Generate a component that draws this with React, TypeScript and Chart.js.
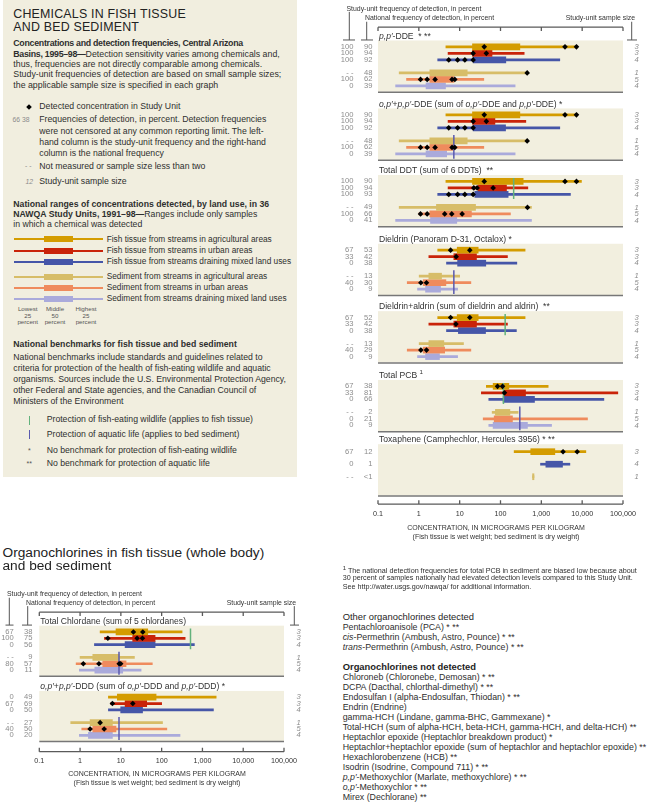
import React, { useEffect, useRef } from 'react';
import { Chart, registerables } from 'chart.js';
Chart.register(...registerables);

const FONT = '"Liberation Sans", Arial, Helvetica, sans-serif';

// ---------------- data ----------------
const TICK_VALUES = [0.1, 1, 10, 100, 1000, 10000, 100000];
const TICK_LABELS = ['0.1', '1', '10', '100', '1,000', '10,000', '100,000'];

const LAND_USES = [
  'Fish tissue from streams in agricultural areas',
  'Fish tissue from streams in urban areas',
  'Fish tissue from streams draining mixed land uses',
  'Sediment from streams in agricultural areas',
  'Sediment from streams in urban areas',
  'Sediment from streams draining mixed land uses',
];

// rows: [lowest, 25th percentile, 75th percentile, highest]  (micrograms per kilogram)
const ppDDE_ranges = [[4.6, 20.6, 298, 7600], [5.2, 20.6, 62, 380], [2.9, 21.4, 135, 2830], [0.33, 1.86, 15.3, 458], [0.5, 1.86, 7.2, 39], [0.27, 1.5, 4.5, 228]];
const ppDDE_detected = [[40, 3800, 7250], [21.4, 45], [5.4, 8.9, 13.4, 21.4], [450], [1.1, 1.6, 2.5, 6.5, 7.6], []];
const ppDDE_freq = [['100', '90', '3'], ['100', '94', '3'], ['100', '92', '4'], ['- -', '48', '1'], ['100', '62', '5'], ['0', '39', '4']];

const sumDDE_ranges = [[4.6, 20.6, 298, 7600], [5.2, 20.6, 73, 417], [2.9, 21.4, 133, 2830], [0.33, 1.86, 15.3, 458], [0.5, 1.86, 7.2, 39], [0.27, 1.5, 4.8, 228]];
const sumDDE_detected = [[40, 3800, 7250], [21.4, 45], [5.4, 8.9, 13.4, 21.4], [450], [1.1, 1.6, 2.5, 6.5, 7.6], []];
const sumDDE_freq = [['100', '90', '3'], ['100', '94', '3'], ['100', '92', '4'], ['- -', '48', '1'], ['100', '62', '5'], ['0', '39', '4']];
const sumDDE_sedBenchmark = 7.2;

const totalDDT_ranges = [[4.6, 20.6, 359, 9600], [5.2, 28.4, 140, 467], [2.9, 23.5, 154, 5160], [0.33, 2.7, 24.5, 574], [1.0, 1.86, 19.4, 175], [0.27, 1.93, 8.5, 574]];
const totalDDT_detected = [[40, 3800, 7250], [22.2, 26.8, 66], [5.4, 8.9, 13.4, 21.4], [458], [1.1, 1.6, 4.3, 6.4, 11.5], []];
const totalDDT_freq = [['100', '90', '3'], ['100', '94', '3'], ['100', '93', '4'], ['- -', '49', '1'], ['100', '66', '5'], ['0', '41', '4']];
const totalDDT_fishBenchmark = 210;

const dieldrin_ranges = [[2.9, 8.7, 28.4, 400], [1.76, 7.2, 25.8, 148], [4.76, 8.9, 43.6, 251], [1.02, 1.76, 3.6, 10], [0.52, 1.28, 4.6, 18.8], [0.93, 1.46, 3.4, 8.9]];
const dieldrin_detected = [[6.0, 17.7], [8.2], [], [], [1.12, 1.54], []];
const dieldrin_freq = [['67', '53', '3'], ['33', '42', '3'], ['0', '38', '4'], ['- -', '13', '1'], ['40', '30', '5'], ['0', '9', '4']];
const dieldrin_sedBenchmark = 7.2;

const dieldrinAldrin_ranges = [[2.9, 8.7, 28.4, 400], [1.76, 7.2, 25.8, 148], [4.76, 9.3, 43, 245], [1.02, 1.76, 4.1, 12.4], [0.52, 1.28, 4.3, 18.8], [0.93, 1.46, 3.2, 8.9]];
const dieldrinAldrin_detected = [[6.0, 17.7], [8.1], [], [], [1.12, 1.54], []];
const dieldrinAldrin_freq = [['67', '52', '3'], ['33', '42', '3'], ['0', '38', '4'], ['- -', '13', '1'], ['40', '29', '5'], ['0', '9', '4']];
const dieldrinAldrin_fishBenchmark = 130;

const totalPCB_ranges = [[45, 66, 160, 1470], [34, 127, 410, 74600], [51.7, 116, 680, 34000], [62.5, 75, 170, 270], [37.7, 70, 196, 13500], [51.7, 66, 457, 1780]];
const totalPCB_detected = [[84.6, 112], [125], [], [], [], []];
const totalPCB_freq = [['67', '38', '3'], ['33', '81', '3'], ['0', '66', '4'], ['- -', '2', '1'], ['0', '21', '5'], ['0', '9', '4']];
const totalPCB_fishBenchmark = 118;
const totalPCB_sedBenchmark = 297;

const toxaphene_landUses = [0, 2, 3];
const toxaphene_ranges = [[216, 550, 2140, 12300], [955, 1290, 3300, 5000], [610, 610, 660, 660]];
const toxaphene_detected = [[3400, 7550], [], []];
const toxaphene_freq = [['67', '12', '3'], ['0', '1', '4'], ['- -', '<1', '1']];

const chlordane_ranges = [[3.1, 7.6, 45.6, 317], [3.95, 19.5, 69, 377], [2.25, 12.7, 69, 634], [1.0, 2.05, 9.1, 21.5], [0.8, 3.6, 13.4, 59], [0.96, 2.3, 11.1, 31.3]];
const chlordane_detected = [[20.3, 34.5], [4.8, 25, 33.8], [], [], [1.2, 2.9, 9.1, 9.9], []];
const chlordane_freq = [['67', '38', '3'], ['100', '75', '3'], ['0', '56', '4'], ['- -', '9', '1'], ['80', '57', '5'], ['0', '11', '4']];
const chlordane_fishBenchmark = 510;
const chlordane_sedBenchmark = 9.0;

const sumDDD_ranges = [[4.95, 8.2, 73, 2170], [5.65, 12.7, 43, 100], [4.95, 9.9, 34, 1860], [0.59, 1.76, 6.2, 105], [1.1, 2.05, 7.6, 134], [0.96, 1.6, 6.2, 282]];
const sumDDD_detected = [[], [6.2, 19.6], [], [3.1], [1.76, 3.9], []];
const sumDDD_freq = [['0', '49', '3'], ['67', '69', '3'], ['0', '50', '4'], ['- -', '27', '1'], ['40', '50', '5'], ['0', '20', '4']];
const sumDDD_sedBenchmark = 9.0;

const ALL_LAND_USES = [0, 1, 2, 3, 4, 5];

// ---------------- styles ----------------
const COLORS = ['#D49C00', '#C92309', '#4656A8', '#D7BD68', '#EF8B5D', '#AAAADB'];
const PANEL_BG = '#F2EFDF';
const GREEN = '#63B27C';
const PURPLE = '#5A5AAE';
const NUM_GRAY = '#8C8C8C';

type Seg = { t: string; i?: boolean; sup?: boolean };
type Panel = {
  title: Seg[]; cats: number[]; ranges: number[][]; detected: number[][]; freq: string[][];
  fishBench?: number; sedBench?: number; top: number; rows: number[];
};

const STD_ROWS = [6.5, 13.1, 19.7, 32.9, 39.5, 46.1];
const TOX_ROWS = [7.6, 20.3, 33];
const PANEL_H = 52;

const P = "p,p\u2032";
const O = "o,p\u2032";

const RIGHT_PANELS: Panel[] = [
  { title: [{ t: P, i: true }, { t: '-DDE  * **' }], cats: ALL_LAND_USES, ranges: ppDDE_ranges, detected: ppDDE_detected, freq: ppDDE_freq, top: 37, rows: STD_ROWS },
  { title: [{ t: O, i: true }, { t: '+' }, { t: P, i: true }, { t: '-DDE (sum of ' }, { t: O, i: true }, { t: '-DDE and ' }, { t: P, i: true }, { t: '-DDE) *' }], cats: ALL_LAND_USES, ranges: sumDDE_ranges, detected: sumDDE_detected, freq: sumDDE_freq, sedBench: sumDDE_sedBenchmark, top: 106, rows: STD_ROWS },
  { title: [{ t: 'Total DDT (sum of 6 DDTs)  **' }], cats: ALL_LAND_USES, ranges: totalDDT_ranges, detected: totalDDT_detected, freq: totalDDT_freq, fishBench: totalDDT_fishBenchmark, top: 173.5, rows: STD_ROWS },
  { title: [{ t: 'Dieldrin (Panoram D-31, Octalox) *' }], cats: ALL_LAND_USES, ranges: dieldrin_ranges, detected: dieldrin_detected, freq: dieldrin_freq, sedBench: dieldrin_sedBenchmark, top: 243.3, rows: STD_ROWS },
  { title: [{ t: 'Dieldrin+aldrin (sum of dieldrin and aldrin)  **' }], cats: ALL_LAND_USES, ranges: dieldrinAldrin_ranges, detected: dieldrinAldrin_detected, freq: dieldrinAldrin_freq, fishBench: dieldrinAldrin_fishBenchmark, top: 311.7, rows: STD_ROWS },
  { title: [{ t: 'Total PCB ' }, { t: '1', sup: true }], cats: ALL_LAND_USES, ranges: totalPCB_ranges, detected: totalPCB_detected, freq: totalPCB_freq, fishBench: totalPCB_fishBenchmark, sedBench: totalPCB_sedBenchmark, top: 381.5, rows: STD_ROWS },
  { title: [{ t: 'Toxaphene (Camphechlor, Hercules 3956) * **' }], cats: toxaphene_landUses, ranges: toxaphene_ranges, detected: toxaphene_detected, freq: toxaphene_freq, top: 446.7, rows: TOX_ROWS },
];

const LEFT_PANELS: Panel[] = [
  { title: [{ t: 'Total Chlordane (sum of 5 chlordanes)' }], cats: ALL_LAND_USES, ranges: chlordane_ranges, detected: chlordane_detected, freq: chlordane_freq, fishBench: chlordane_fishBenchmark, sedBench: chlordane_sedBenchmark, top: 623.3, rows: STD_ROWS },
  { title: [{ t: O, i: true }, { t: '+' }, { t: P, i: true }, { t: '-DDD (sum of ' }, { t: O, i: true }, { t: '-DDD and ' }, { t: P, i: true }, { t: '-DDD) *' }], cats: ALL_LAND_USES, ranges: sumDDD_ranges, detected: sumDDD_detected, freq: sumDDD_freq, sedBench: sumDDD_sedBenchmark, top: 691, rows: STD_ROWS },
];

type Column = {
  id: string; left: number; top: number; width: number; height: number;
  areaLeft: number; areaRight: number;
  suRight: number; natRight: number; nCenter: number;
  hdrSu: [number, number]; hdrNat: [number, number]; hdrSs: [number, number];
  brackets: { x: number; y1: number; y2: number; h1: number; h2: number }[];
  topAxisY: number; bottomAxisY: number; axisTitleX: number; axisTitleY: number;
  panels: Panel[];
};

const RIGHT_COL: Column = {
  id: 'right', left: 330, top: 0, width: 330, height: 550,
  areaLeft: 378, areaRight: 623,
  suRight: 353.5, natRight: 372.5, nCenter: 636.5,
  hdrSu: [346.5, 5], hdrNat: [365, 14], hdrSs: [635, 14],
  brackets: [
    { x: 349.3, y1: 8, y2: 36.5, h1: 343, h2: 355 },
    { x: 366.7, y1: 18, y2: 36.5, h1: 361, h2: 373 },
    { x: 631.7, y1: 18, y2: 36.5, h1: 627, h2: 637 },
  ],
  topAxisY: 23.5, bottomAxisY: 507.5, axisTitleX: 496, axisTitleY: 532.3,
  panels: RIGHT_PANELS,
};

const LEFT_COL: Column = {
  id: 'left', left: 0, top: 578, width: 330, height: 222,
  areaLeft: 39.3, areaRight: 284,
  suRight: 13.8, natRight: 32.5, nCenter: 298.5,
  hdrSu: [7, 590.7], hdrNat: [26, 600], hdrSs: [296, 600],
  brackets: [
    { x: 9.3, y1: 594.3, y2: 622.7, h1: 5.5, h2: 13.5 },
    { x: 27.7, y1: 603, y2: 622.7, h1: 22, h2: 32 },
    { x: 294.3, y1: 603, y2: 622.7, h1: 290, h2: 299 },
  ],
  topAxisY: 609.3, bottomAxisY: 754, axisTitleX: 157, axisTitleY: 777.3,
  panels: LEFT_PANELS,
};

// ---------------- drawing helpers ----------------
function drawSegs(ctx: CanvasRenderingContext2D, segs: Seg[], x: number, y: number, size: number, color: string) {
  const fontOf = (s: Seg) => `${s.i ? 'italic ' : ''}${s.sup ? size * 0.72 : size}px ${FONT}`;
  let cx = x;
  ctx.fillStyle = color;
  ctx.textAlign = 'left';
  ctx.textBaseline = 'middle';
  segs.forEach((s) => {
    ctx.font = fontOf(s);
    ctx.fillText(s.t, cx, s.sup ? y - size * 0.35 : y);
    cx += ctx.measureText(s.t).width;
  });
}

function makePlugin(col: Column) {
  return {
    id: 'panelDecor_' + col.id,
    beforeDatasetsDraw(chart: any) {
      const ctx: CanvasRenderingContext2D = chart.ctx;
      const xs = chart.scales.x;
      const ys = chart.scales.y;
      const X = (v: number) => xs.getPixelForValue(v);
      const Y = (p: number) => ys.getPixelForValue(p);
      const CX = (px: number) => px - col.left;
      const L = chart.chartArea.left;
      const R = chart.chartArea.right;
      ctx.save();

      // column headers
      ctx.font = `6.9px ${FONT}`;
      ctx.fillStyle = '#333';
      ctx.textBaseline = 'middle';
      ctx.textAlign = 'left';
      ctx.fillText('Study-unit frequency of detection, in percent', CX(col.hdrSu[0]), Y(col.hdrSu[1]));
      ctx.fillText('National frequency of detection, in percent', CX(col.hdrNat[0]), Y(col.hdrNat[1]));
      ctx.textAlign = 'right';
      ctx.fillText('Study-unit sample size', CX(col.hdrSs[0]), Y(col.hdrSs[1]));

      ctx.strokeStyle = '#555';
      ctx.lineWidth = 1;
      col.brackets.forEach((b) => {
        ctx.beginPath();
        ctx.moveTo(CX(b.x), Y(b.y1));
        ctx.lineTo(CX(b.x), Y(b.y2));
        ctx.moveTo(CX(b.h1), Y(b.y2));
        ctx.lineTo(CX(b.h2), Y(b.y2));
        ctx.stroke();
      });

      // top axis
      ctx.strokeStyle = '#5a5a5a';
      ctx.lineWidth = 1.3;
      ctx.beginPath();
      ctx.moveTo(L, Y(col.topAxisY));
      ctx.lineTo(R, Y(col.topAxisY));
      TICK_VALUES.forEach((v) => {
        ctx.moveTo(X(v), Y(col.topAxisY));
        ctx.lineTo(X(v), Y(col.topAxisY + 4));
      });
      ctx.stroke();

      // bottom axis
      ctx.beginPath();
      ctx.moveTo(L, Y(col.bottomAxisY));
      ctx.lineTo(R, Y(col.bottomAxisY));
      TICK_VALUES.forEach((v) => {
        ctx.moveTo(X(v), Y(col.bottomAxisY));
        ctx.lineTo(X(v), Y(col.bottomAxisY - 4));
      });
      ctx.stroke();
      ctx.font = `7.2px ${FONT}`;
      ctx.fillStyle = '#333';
      ctx.textAlign = 'center';
      TICK_VALUES.forEach((v, i) => ctx.fillText(TICK_LABELS[i], X(v), Y(col.bottomAxisY + 10)));
      ctx.font = `7px ${FONT}`;
      ctx.fillText('CONCENTRATION, IN MICROGRAMS PER KILOGRAM', CX(col.axisTitleX), Y(col.axisTitleY));
      ctx.fillText('(Fish tissue is wet weight; bed sediment is dry weight)', CX(col.axisTitleX), Y(col.axisTitleY + 9));

      // panels
      col.panels.forEach((p) => {
        const t0 = Y(p.top);
        const t1 = Y(p.top + PANEL_H);
        ctx.fillStyle = PANEL_BG;
        ctx.fillRect(L, t0, R - L, t1 - t0);
        ctx.strokeStyle = '#777';
        ctx.lineWidth = 1.5;
        ctx.beginPath();
        ctx.moveTo(L, t1 + 0.5);
        ctx.lineTo(R, t1 + 0.5);
        ctx.stroke();
        drawSegs(ctx, p.title, L + 1, Y(p.top - 4.3), 8.6, '#333');
        p.rows.forEach((off, r) => {
          const y = Y(p.top + off);
          const f = p.freq[r];
          ctx.fillStyle = NUM_GRAY;
          ctx.font = `7.6px ${FONT}`;
          ctx.textAlign = 'right';
          ctx.fillText(f[0], CX(col.suRight), y);
          ctx.fillText(f[1], CX(col.natRight), y);
          ctx.font = `italic 7.6px ${FONT}`;
          ctx.textAlign = 'center';
          ctx.fillText(f[2], CX(col.nCenter), y);
        });
      });
      ctx.restore();
    },
  };
}

function buildConfig(col: Column): any {
  const datasets: any[] = [];
  for (let c = 0; c < 6; c++) {
    const thin: any[] = [];
    const thick: any[] = [];
    col.panels.forEach((p) => p.cats.forEach((cat, r) => {
      if (cat !== c) return;
      const y = p.top + p.rows[r];
      const [mn, q1, q3, mx] = p.ranges[r];
      thin.push({ y, x: [mn, mx] });
      thick.push({ y, x: [q1, q3] });
    }));
    datasets.push({ type: 'bar', label: LAND_USES[c] + ' (range)', data: thin, indexAxis: 'y', grouped: false, barThickness: 2, backgroundColor: COLORS[c], borderWidth: 0, order: 5 });
    datasets.push({ type: 'bar', label: LAND_USES[c] + ' (middle 50 percent)', data: thick, indexAxis: 'y', grouped: false, barThickness: 6, backgroundColor: COLORS[c], borderWidth: 0, order: 4 });
  }
  col.panels.forEach((p) => {
    if (p.fishBench) datasets.push({ type: 'line', label: 'Fish-eating wildlife benchmark', data: [{ x: p.fishBench, y: p.top + 3 }, { x: p.fishBench, y: p.top + 24.5 }], borderColor: GREEN, borderWidth: 1.5, pointRadius: 0, order: 2 });
    if (p.sedBench) datasets.push({ type: 'line', label: 'Aquatic life benchmark', data: [{ x: p.sedBench, y: p.top + 27 }, { x: p.sedBench, y: p.top + 51 }], borderColor: PURPLE, borderWidth: 1.5, pointRadius: 0, order: 2 });
  });
  const pts: any[] = [];
  col.panels.forEach((p) => p.detected.forEach((vals, r) => vals.forEach((v) => pts.push({ x: v, y: p.top + p.rows[r] }))));
  datasets.push({ type: 'scatter', label: 'Detected concentration in Study Unit', data: pts, pointStyle: 'rectRot', pointRadius: 2.8, backgroundColor: '#000', borderColor: '#000', borderWidth: 0, order: 1 });

  return {
    type: 'bar',
    data: { datasets },
    options: {
      responsive: false,
      animation: false,
      events: [],
      devicePixelRatio: 1,
      layout: { padding: { left: col.areaLeft - col.left, right: col.left + col.width - col.areaRight, top: 0, bottom: 0 } },
      scales: {
        x: { type: 'logarithmic', min: 0.1, max: 100000, display: false, bounds: 'data', offset: false },
        y: { type: 'linear', min: col.top, max: col.top + col.height, reverse: true, display: false, bounds: 'data', offset: false, grace: 0 },
      },
      plugins: { legend: { display: false }, tooltip: { enabled: false } },
    },
    plugins: [makePlugin(col)],
  };
}

function ColumnChart({ col }: { col: Column }) {
  const ref = useRef<HTMLCanvasElement>(null);
  useEffect(() => {
    const chart = new Chart(ref.current as HTMLCanvasElement, buildConfig(col));
    return () => chart.destroy();
  }, [col]);
  return (
    <canvas ref={ref} width={col.width} height={col.height}
      style={{ position: 'absolute', left: col.left, top: col.top, width: col.width, height: col.height }} />
  );
}

// ---------------- HTML text ----------------
function Txt({ x, y, size = 8.6, align = 'left', style, children }: any) {
  const h = size * 1.3;
  const pos: any = align === 'right' ? { left: x - 400, width: 400, textAlign: 'right' } : align === 'center' ? { left: x - 100, width: 200, textAlign: 'center' } : { left: x };
  return (
    <div style={{ position: 'absolute', top: y - h / 2, height: h, lineHeight: `${h}px`, fontSize: size, fontFamily: FONT, whiteSpace: 'nowrap', color: '#2e2e2e', ...pos, ...style }}>
      {children}
    </div>
  );
}

const LEGEND_BAR_Y = [239.3, 250.5, 261.7, 276.5, 287.7, 298.8];

const NOT_DETECTED: Seg[][] = [
  [{ t: 'Chloroneb (Chloronebe, Demosan) * **' }],
  [{ t: 'DCPA (Dacthal, chlorthal-dimethyl) * **' }],
  [{ t: 'Endosulfan I (alpha-Endosulfan, Thiodan) * **' }],
  [{ t: 'Endrin (Endrine)' }],
  [{ t: 'gamma-HCH (Lindane, gamma-BHC, Gammexane) *' }],
  [{ t: 'Total-HCH (sum of alpha-HCH, beta-HCH, gamma-HCH, and delta-HCH)  **' }],
  [{ t: 'Heptachlor epoxide (Heptachlor breakdown product) *' }],
  [{ t: 'Heptachlor+heptachlor epoxide (sum of heptachlor and heptachlor epoxide)  **' }],
  [{ t: 'Hexachlorobenzene (HCB)  **' }],
  [{ t: 'Isodrin (Isodrine, Compound 711) * **' }],
  [{ t: P, i: true }, { t: '-Methoxychlor (Marlate, methoxychlore) * **' }],
  [{ t: O, i: true }, { t: '-Methoxychlor * **' }],
  [{ t: 'Mirex (Dechlorane)  **' }],
];
const OTHER_DETECTED: Seg[][] = [
  [{ t: 'Pentachloroanisole (PCA) * **' }],
  [{ t: 'cis', i: true }, { t: '-Permethrin (Ambush, Astro, Pounce) * **' }],
  [{ t: 'trans', i: true }, { t: '-Permethrin (Ambush, Astro, Pounce) * **' }],
];

const segSpans = (segs: Seg[]) => segs.map((s, i) => <span key={i} style={{ fontStyle: s.i ? 'italic' : 'normal' }}>{s.t}</span>);

function Legend() {
  const para = 8.8;
  const small = 8.7;
  const lab = 8.3;
  const tight = { letterSpacing: -0.28 };
  return (
    <div style={{ position: 'absolute', left: 3, top: 0, width: 294, height: 477, background: '#F1EEDF' }}>
      <div style={{ position: 'absolute', left: -3, top: 0 }}>
        <Txt x={13.3} y={14} size={12.4} style={{ letterSpacing: 0.2, color: '#222' }}>CHEMICALS IN FISH TISSUE</Txt>
        <Txt x={13.3} y={26.7} size={12.4} style={{ letterSpacing: 0.2, color: '#222' }}>AND BED SEDIMENT</Txt>

        <Txt x={13.3} y={44} size={para}><b style={tight}>Concentrations and detection frequencies, Central Arizona</b></Txt>
        <Txt x={13.3} y={54.3} size={para}><b style={tight}>Basins, 1995–98—</b>Detection sensitivity varies among chemicals and,</Txt>
        <Txt x={13.3} y={64.5} size={para}>thus, frequencies are not directly comparable among chemicals.</Txt>
        <Txt x={13.3} y={75} size={para}>Study-unit frequencies of detection are based on small sample sizes;</Txt>
        <Txt x={13.3} y={85.5} size={para}>the applicable sample size is specified in each graph</Txt>

        <div style={{ position: 'absolute', left: 27.3, top: 104.7, width: 4, height: 4, background: '#000', transform: 'rotate(45deg)' }} />
        <Txt x={39.3} y={106.7} size={small}>Detected concentration in Study Unit</Txt>
        <Txt x={12.5} y={120} size={6.8} style={{ color: NUM_GRAY }}>66 38</Txt>
        <Txt x={39.3} y={120} size={small}>Frequencies of detection, in percent. Detection frequencies</Txt>
        <Txt x={39.3} y={131.3} size={small}>were not censored at any common reporting limit. The left-</Txt>
        <Txt x={39.3} y={142.6} size={small}>hand column is the study-unit frequency and the right-hand</Txt>
        <Txt x={39.3} y={153.7} size={small}>column is the national frequency</Txt>
        <Txt x={25} y={166.7} size={6.8} style={{ color: NUM_GRAY }}>- -</Txt>
        <Txt x={39.3} y={166.7} size={small}>Not measured or sample size less than two</Txt>
        <Txt x={25.5} y={182} size={6.8} style={{ color: NUM_GRAY, fontStyle: 'italic' }}>12</Txt>
        <Txt x={39.3} y={182} size={small}>Study-unit sample size</Txt>

        <Txt x={13.3} y={204.7} size={small}><b>National ranges of concentrations detected, by land use, in 36</b></Txt>
        <Txt x={13.3} y={214.7} size={small}><b>NAWQA Study Units, 1991–98—</b>Ranges include only samples</Txt>
        <Txt x={13.3} y={224.5} size={small}>in which a chemical was detected</Txt>

        {LAND_USES.map((name, i) => (
          <React.Fragment key={name}>
            <div style={{ position: 'absolute', left: 14, top: LEGEND_BAR_Y[i] - 1, width: 89.3, height: 2, background: COLORS[i] }} />
            <div style={{ position: 'absolute', left: 44, top: LEGEND_BAR_Y[i] - 3, width: 28.7, height: 6, background: COLORS[i] }} />
            <Txt x={106.7} y={LEGEND_BAR_Y[i]} size={lab}>{name}</Txt>
          </React.Fragment>
        ))}
        {[['Lowest', 27.7], ['Middle', 55], ['Highest', 86]].map(([w, x]: any, i) => (
          <React.Fragment key={w}>
            <Txt x={x} y={309} size={6.2} align="center" style={{ color: '#555' }}>{w}</Txt>
            <Txt x={x} y={315.6} size={6.2} align="center" style={{ color: '#555' }}>{i === 1 ? '50' : '25'}</Txt>
            <Txt x={x} y={321.7} size={6.2} align="center" style={{ color: '#555' }}>percent</Txt>
          </React.Fragment>
        ))}

        <Txt x={13.3} y={345} size={small}><b>National benchmarks for fish tissue and bed sediment</b></Txt>
        <Txt x={13.3} y={357.3} size={small}>National benchmarks include standards and guidelines related to</Txt>
        <Txt x={13.3} y={368.3} size={small}>criteria for protection of the health of fish-eating wildlife and aquatic</Txt>
        <Txt x={13.3} y={379.3} size={small}>organisms. Sources include the U.S. Environmental Protection Agency,</Txt>
        <Txt x={13.3} y={390.3} size={small}>other Federal and State agencies, and the Canadian Council of</Txt>
        <Txt x={13.3} y={401.3} size={small}>Ministers of the Environment</Txt>

        <div style={{ position: 'absolute', left: 28.7, top: 416, width: 1.3, height: 9, background: GREEN }} />
        <Txt x={46.7} y={420} size={small}>Protection of fish-eating wildlife (applies to fish tissue)</Txt>
        <div style={{ position: 'absolute', left: 28.7, top: 430, width: 1.3, height: 9, background: PURPLE }} />
        <Txt x={46.7} y={434.5} size={small}>Protection of aquatic life (applies to bed sediment)</Txt>
        <Txt x={28} y={450.5} size={7} style={{ color: '#555' }}>*</Txt>
        <Txt x={26.5} y={464} size={7} style={{ color: '#555' }}>**</Txt>
        <Txt x={46.7} y={450.5} size={small}>No benchmark for protection of fish-eating wildlife</Txt>
        <Txt x={46.7} y={464} size={small}>No benchmark for protection of aquatic life</Txt>
      </div>
    </div>
  );
}

export default function App() {
  return (
    <div style={{ position: 'absolute', left: 0, top: 0, width: 660, height: 811, background: '#fff', overflow: 'hidden', fontFamily: FONT }}>
      <Legend />
      <ColumnChart col={RIGHT_COL} />
      <ColumnChart col={LEFT_COL} />

      <Txt x={2.5} y={552.7} size={13.7} style={{ color: '#222' }}>Organochlorines in fish tissue (whole body)</Txt>
      <Txt x={2.5} y={566} size={13.7} style={{ color: '#222' }}>and bed sediment</Txt>

      <Txt x={342.7} y={569} size={7.2}><sup style={{ fontSize: 6 }}>1</sup> The national detection frequencies for total PCB in sediment are biased low because about</Txt>
      <Txt x={342.7} y={578} size={7.2}>30 percent of samples nationally had elevated detection levels compared to this Study Unit.</Txt>
      <Txt x={342.7} y={587} size={7.2}>See http://water.usgs.gov/nawqa/ for additional information.</Txt>

      <Txt x={342.7} y={617.5} size={9.4} style={{ color: '#1e1e1e' }}>Other organochlorines detected</Txt>
      {OTHER_DETECTED.map((segs, i) => (
        <Txt key={'o' + i} x={342.7} y={627.3 + i * 10} size={8.8}>{segSpans(segs)}</Txt>
      ))}
      <Txt x={342.7} y={667.5} size={9.4} style={{ color: '#1e1e1e' }}><b>Organochlorines not detected</b></Txt>
      {NOT_DETECTED.map((segs, i) => (
        <Txt key={'n' + i} x={342.7} y={677.5 + i * 10} size={8.8}>{segSpans(segs)}</Txt>
      ))}
    </div>
  );
}
